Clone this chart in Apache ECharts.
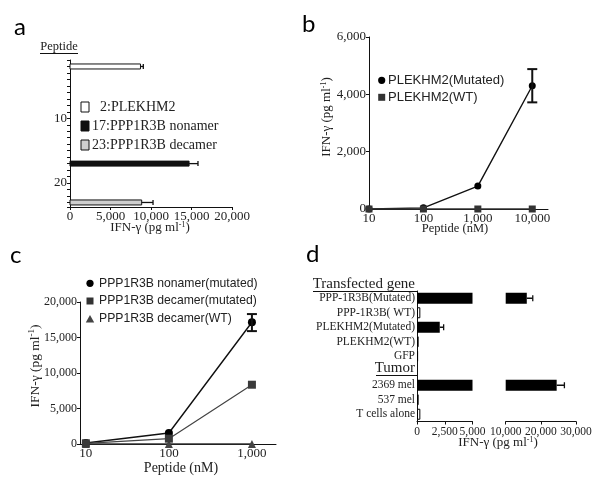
<!DOCTYPE html>
<html><head><meta charset="utf-8">
<script src="https://cdn.jsdelivr.net/npm/echarts@6/dist/echarts.min.js"></script>
<style>html,body{margin:0;padding:0;background:#fff}#c{width:600px;height:488px}</style>
</head><body><div id="c"></div>
<script>
// ---------- Panel a ----------
const aPeptides = [2, 17, 23];
const aNames = ['2:PLEKHM2', '17:PPP1R3B nonamer', '23:PPP1R3B decamer'];
const aValues = [8700, 14700, 8850];
const aErrHigh = [9050, 15800, 10250];
const aYLabels = [10, 20];
// ---------- Panel b ----------
const bDoses = [10, 100, 1000, 10000];
const bMutated = [0, 40, 800, 4300];
const bWT = [0, 0, 0, 0];
const bErr = [[10000, 3720, 4880]];
const bTicks = [10, 100, 1000, 10000];
// ---------- Panel c ----------
const cDoses = [10, 100, 1000];
const cNonamer = [150, 1550, 17150];
const cDecamerMut = [100, 750, 8350];
const cDecamerWT = [0, 0, 0];
const cErr = [[1000, 15900, 18300]];
const cTicks = [10, 100, 1000];
// ---------- Panel d ----------
const dCategories = ['PPP-1R3B(Mutated)', 'PPP-1R3B( WT)', 'PLEKHM2(Mutated)', 'PLEKHM2(WT)', 'GFP', '', '2369 mel', '537 mel', 'T cells alone'];
const dValues = [16000, 300, 2050, 150, 100, null, 24500, 150, 300];
const dErrHigh = [17700, null, 2400, null, null, null, 26700, null, null];

const SERIF = '"Liberation Serif", "Times New Roman", serif';
const SANS = '"Liberation Sans", Arial, sans-serif';
const INK = '#111';
const aColors = ['#ffffff', '#111111', '#cfcfcf'];
const comma = v => Number(v).toLocaleString('en-US');

function axisBase(extra) {
  return Object.assign({
    axisLine: { show: true, onZero: false, lineStyle: { color: INK, width: 1 } },
    axisTick: { show: true, length: 3, lineStyle: { color: INK } },
    splitLine: { show: false },
    axisLabel: { color: '#222', fontFamily: SERIF, fontSize: 13, margin: 3, formatter: comma }
  }, extra);
}

const chart = echarts.init(document.getElementById('c'), null, { renderer: 'canvas' });

function hErr(xIdx, yIdx, data, cap) {
  return {
    type: 'custom', xAxisIndex: xIdx, yAxisIndex: yIdx, clip: true, z: 5,
    data: data,
    renderItem(params, api) {
      const lo = api.value(0), hi = api.value(1), c = api.value(2);
      const p0 = api.coord([lo, c]), p1 = api.coord([hi, c]);
      const st = { stroke: INK, lineWidth: 1.3 };
      return { type: 'group', children: [
        { type: 'line', shape: { x1: p0[0], y1: p0[1], x2: p1[0], y2: p1[1] }, style: st },
        { type: 'line', shape: { x1: p1[0], y1: p1[1] - cap, x2: p1[0], y2: p1[1] + cap }, style: st }
      ]};
    }
  };
}
function vErr(xIdx, yIdx, data, cap) {
  return {
    type: 'custom', xAxisIndex: xIdx, yAxisIndex: yIdx, z: 5,
    data: data,
    renderItem(params, api) {
      const x = api.value(0), lo = api.value(1), hi = api.value(2);
      const p0 = api.coord([x, lo]), p1 = api.coord([x, hi]);
      const st = { stroke: INK, lineWidth: 2 };
      return { type: 'group', children: [
        { type: 'line', shape: { x1: p0[0], y1: p0[1], x2: p1[0], y2: p1[1] }, style: st },
        { type: 'line', shape: { x1: p0[0] - cap, y1: p0[1], x2: p0[0] + cap, y2: p0[1] }, style: st },
        { type: 'line', shape: { x1: p1[0] - cap, y1: p1[1], x2: p1[0] + cap, y2: p1[1] }, style: st }
      ]};
    }
  };
}

const titleRich = (size) => ({
  n: { fontFamily: SERIF, fontSize: size, fill: '#222' },
  s: { fontFamily: SERIF, fontSize: Math.round(size * 0.65), fill: '#222', verticalAlign: 'top', padding: [0, 0, 6, 0] }
});
const ifnText = '{n|IFN-γ (pg ml}{s|-1}{n|)}';

function txt(x, y, text, opts) {
  return { type: 'text', x: x, y: y, silent: true, style: Object.assign({ text: text, fill: '#222', fontFamily: SERIF, fontSize: 13, align: 'left', verticalAlign: 'middle' }, opts || {}) };
}
function hline(x1, x2, y) {
  return { type: 'line', silent: true, shape: { x1: x1, y1: y, x2: x2, y2: y }, style: { stroke: INK, lineWidth: 1.2 } };
}

const graphics = [
  // panel letters
  txt(14, 27, 'a', { fontFamily: 'Lato, ' + SANS, fontSize: 24, fill: '#000' }),
  txt(302, 24, 'b', { fontFamily: 'Lato, ' + SANS, fontSize: 24, fill: '#000' }),
  txt(10, 255, 'c', { fontFamily: 'Lato, ' + SANS, fontSize: 24, fill: '#000' }),
  txt(306, 254, 'd', { fontFamily: 'Lato, ' + SANS, fontSize: 24, fill: '#000' }),
  // panel a
  txt(59, 47, 'Peptide', { align: 'center', fontSize: 12.5 }),
  hline(40, 78, 53.5),
  { type: 'rect', shape: { x: 81, y: 102, width: 8, height: 10 }, style: { fill: aColors[0], stroke: INK, lineWidth: 1 } },
  { type: 'rect', shape: { x: 81, y: 121, width: 8, height: 10 }, style: { fill: aColors[1], stroke: INK, lineWidth: 1 } },
  { type: 'rect', shape: { x: 81, y: 140, width: 8, height: 10 }, style: { fill: aColors[2], stroke: INK, lineWidth: 1 } },
  txt(100, 107.5, aNames[0], { fontSize: 14 }),
  txt(92, 126.5, aNames[1], { fontSize: 14 }),
  txt(92, 145.5, aNames[2], { fontSize: 14 }),
  { type: 'text', x: 150, y: 228, style: { text: ifnText, rich: titleRich(13), align: 'center', verticalAlign: 'middle' } },
  // panel b
  { type: 'circle', shape: { cx: 381.7, cy: 80.3, r: 3.6 }, style: { fill: '#000' } },
  { type: 'rect', shape: { x: 378.2, y: 93.8, width: 7, height: 7 }, style: { fill: '#333' } },
  txt(388, 80.3, 'PLEKHM2(Mutated)', { fontFamily: SANS, fontSize: 13 }),
  txt(388, 97.3, 'PLEKHM2(WT)', { fontFamily: SANS, fontSize: 13 }),
  txt(455, 229, 'Peptide (nM)', { align: 'center', fontSize: 12.5 }),
  { type: 'text', x: 327, y: 117, rotation: Math.PI / 2, style: { text: ifnText, rich: titleRich(13), align: 'center', verticalAlign: 'middle' } },
  // panel c
  { type: 'circle', shape: { cx: 90, cy: 283.3, r: 3.6 }, style: { fill: '#000' } },
  { type: 'rect', shape: { x: 86.5, y: 297.5, width: 7, height: 7 }, style: { fill: '#333' } },
  { type: 'polygon', shape: { points: [[90, 315], [94.2, 322.5], [85.8, 322.5]] }, style: { fill: '#444' } },
  txt(99, 283.3, 'PPP1R3B nonamer(mutated)', { fontFamily: SANS, fontSize: 12.2 }),
  txt(99, 301, 'PPP1R3B decamer(mutated)', { fontFamily: SANS, fontSize: 12.2 }),
  txt(99, 319, 'PPP1R3B decamer(WT)', { fontFamily: SANS, fontSize: 12.2 }),
  txt(181, 468, 'Peptide (nM)', { align: 'center', fontSize: 14 }),
  { type: 'text', x: 35, y: 366, rotation: Math.PI / 2, style: { text: ifnText, rich: titleRich(13.5), align: 'center', verticalAlign: 'middle' } },
  // panel d
  txt(415, 284, 'Transfected gene', { align: 'right', fontSize: 15 }),
  hline(313, 417, 291.5),
  txt(415, 368, 'Tumor', { align: 'right', fontSize: 15 }),
  hline(376, 417, 375.5),
  { type: 'text', x: 498, y: 443, style: { text: ifnText, rich: titleRich(13), align: 'center', verticalAlign: 'middle' } }
];

const option = {
  animation: false,
  backgroundColor: '#fff',
  grid: [
    { left: 70, top: 60, width: 162, height: 147 },
    { left: 369, top: 37, width: 179, height: 172 },
    { left: 80, top: 302, width: 196, height: 142 },
    { left: 417, top: 291, width: 55.5, height: 130.5 },
    { left: 505.7, top: 291, width: 70.3, height: 130.5 }
  ],
  xAxis: [
    axisBase({ gridIndex: 0, type: 'value', min: 0, max: 20000, interval: 5000 }),
    axisBase({ gridIndex: 1, type: 'log', logBase: 10, min: 10, max: 19460,
      axisLabel: { color: '#222', fontFamily: SERIF, fontSize: 13, margin: 3, formatter: comma, customValues: bTicks },
      axisTick: { show: true, length: 3, lineStyle: { color: INK }, customValues: bTicks } }),
    axisBase({ gridIndex: 2, type: 'log', logBase: 10, min: 8.5, max: 1950,
      axisLabel: { color: '#222', fontFamily: SERIF, fontSize: 13, margin: 3, formatter: comma, customValues: cTicks },
      axisTick: { show: true, length: 3, lineStyle: { color: INK }, customValues: cTicks } }),
    axisBase({ gridIndex: 3, type: 'value', min: 0, max: 5000, interval: 2500,
      axisLabel: { color: '#222', fontFamily: SERIF, fontSize: 11.5, margin: 4, formatter: comma } }),
    axisBase({ gridIndex: 4, type: 'value', min: 10000, max: 30000, interval: 10000,
      axisLabel: { color: '#222', fontFamily: SERIF, fontSize: 11.5, margin: 4, formatter: comma } })
  ],
  yAxis: [
    axisBase({ gridIndex: 0, type: 'value', inverse: true, min: 1, max: 23.7, interval: 1,
      axisLabel: { color: '#222', fontFamily: SERIF, fontSize: 13, margin: 3,
        formatter: v => aYLabels.indexOf(v) >= 0 ? String(v) : '' } }),
    axisBase({ gridIndex: 1, type: 'value', min: 0, max: 6000, interval: 2000 }),
    axisBase({ gridIndex: 2, type: 'value', min: 0, max: 20000, interval: 5000,
      axisLabel: { color: '#222', fontFamily: SERIF, fontSize: 12, margin: 3, formatter: comma } }),
    axisBase({ gridIndex: 3, type: 'category', inverse: true, data: dCategories,
      axisTick: { show: false },
      axisLabel: { color: '#222', fontFamily: SERIF, fontSize: 11.5, margin: 2, interval: 0 } }),
    axisBase({ gridIndex: 4, type: 'category', inverse: true, data: dCategories,
      axisLine: { show: false }, axisTick: { show: false }, axisLabel: { show: false } })
  ],
  graphic: graphics,
  series: [
    // a bars
    {
      type: 'custom', xAxisIndex: 0, yAxisIndex: 0, z: 3,
      data: aPeptides.map((p, i) => [aValues[i], p, i]),
      renderItem(params, api) {
        const v = api.value(0), p = api.value(1), i = api.value(2);
        const s = api.coord([0, p]), e = api.coord([v, p]);
        const h = 5;
        return { type: 'rect', shape: { x: s[0], y: s[1] - h / 2, width: e[0] - s[0], height: h },
          style: { fill: aColors[i], stroke: INK, lineWidth: 1 } };
      }
    },
    hErr(0, 0, aPeptides.map((p, i) => [aValues[i], aErrHigh[i], p]), 2.5),
    // b
    { type: 'line', xAxisIndex: 1, yAxisIndex: 1, data: bDoses.map((d, i) => [d, bMutated[i]]),
      symbol: 'circle', symbolSize: 7, itemStyle: { color: '#000' }, lineStyle: { color: '#111', width: 1.4 }, z: 3 },
    { type: 'line', xAxisIndex: 1, yAxisIndex: 1, data: bDoses.map((d, i) => [d, bWT[i]]),
      symbol: 'rect', symbolSize: 7, itemStyle: { color: '#333' }, lineStyle: { color: '#333', width: 1.4 }, z: 4 },
    vErr(1, 1, bErr, 5),
    // c
    { type: 'line', xAxisIndex: 2, yAxisIndex: 2, data: cDoses.map((d, i) => [d, cDecamerWT[i]]),
      symbol: 'triangle', symbolSize: 8, itemStyle: { color: '#444' }, lineStyle: { color: '#333', width: 1.4 }, z: 3 },
    { type: 'line', xAxisIndex: 2, yAxisIndex: 2, data: cDoses.map((d, i) => [d, cNonamer[i]]),
      symbol: 'circle', symbolSize: 8, itemStyle: { color: '#000' }, lineStyle: { color: '#111', width: 1.4 }, z: 3 },
    { type: 'line', xAxisIndex: 2, yAxisIndex: 2, data: cDoses.map((d, i) => [d, cDecamerMut[i]]),
      symbol: 'rect', symbolSize: 8, itemStyle: { color: '#3a3a3a' }, lineStyle: { color: '#444', width: 1.2 }, z: 4 },
    vErr(2, 2, cErr, 5),
    // d bars (broken axis: same data drawn on both segments, clipped)
    { type: 'bar', xAxisIndex: 3, yAxisIndex: 3, clip: true, barWidth: 11,
      data: dValues.map(v => v == null ? null : { value: v, itemStyle: v > 1000 ? { color: '#000' } : { color: '#fff', borderColor: '#000', borderWidth: 1 } }) },
    { type: 'bar', xAxisIndex: 4, yAxisIndex: 4, clip: true, barWidth: 11,
      data: dValues.map(v => v == null ? null : { value: v, itemStyle: v > 1000 ? { color: '#000' } : { color: '#fff', borderColor: '#000', borderWidth: 1 } }) },
    hErr(3, 3, dCategories.map((c, i) => dErrHigh[i] == null ? null : [dValues[i], dErrHigh[i], c]).filter(Boolean), 3),
    hErr(4, 4, dCategories.map((c, i) => dErrHigh[i] == null ? null : [dValues[i], dErrHigh[i], c]).filter(Boolean), 3)
  ]
};
chart.setOption(option);
</script></body></html>
